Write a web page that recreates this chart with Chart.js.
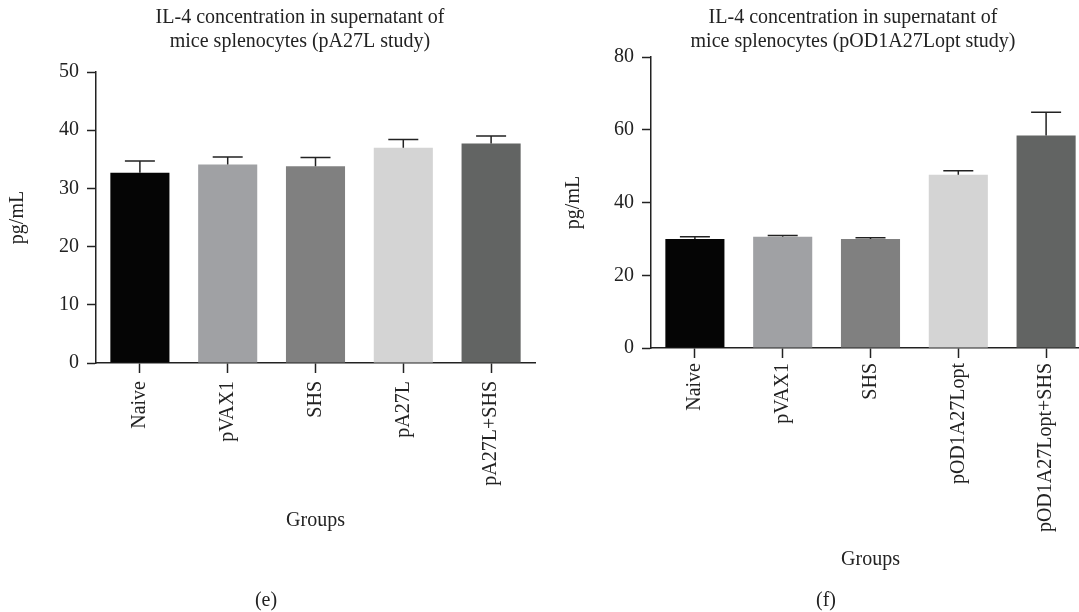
<!DOCTYPE html>
<html>
<head>
<meta charset="utf-8">
<script src="https://cdn.jsdelivr.net/npm/chart.js@4.4.0/dist/chart.umd.min.js"></script>
<style>
    html, body { margin: 0; padding: 0; background: #fff; overflow: hidden; }
    #wrap { position: relative; width: 1079px; height: 612px; overflow: hidden; }
    canvas { position: absolute; top: 0; }
    #chartE { left: 0px; }
    #chartF { left: 556px; }
    .panel { position: absolute; top: 588px; font: 20px 'Liberation Serif', serif; color: #222; width: 60px; text-align: center; }
</style>
</head>
<body>
<div id="wrap">
    <canvas id="chartE" width="600" height="612"></canvas>
    <canvas id="chartF" width="594" height="612"></canvas>
    <div class="panel" style="left:236px">(e)</div>
    <div class="panel" style="left:796px">(f)</div>
</div>
<script>
// Panel (e) - pA27L study
const groupsE = ['Naive', 'pVAX1', 'SHS', 'pA27L', 'pA27L+SHS'];
const meansE = [32.7, 34.1, 33.8, 37.0, 37.7];
const semE = [2.0, 1.3, 1.5, 1.4, 1.3];

// Panel (f) - pOD1A27Lopt study
const groupsF = ['Naive', 'pVAX1', 'SHS', 'pOD1A27Lopt', 'pOD1A27Lopt+SHS'];
const meansF = [30.0, 30.6, 30.0, 47.6, 58.4];
const semF = [0.6, 0.3, 0.3, 1.1, 6.4];

const barColors = ['#050505', '#a0a1a4', '#808080', '#d4d4d4', '#626463'];

Chart.defaults.font.family = "'Liberation Serif', 'Times New Roman', serif";
Chart.defaults.font.size = 20;
Chart.defaults.color = '#222';

// upper error bars drawn through the y scale
const errorBars = {
    id: 'errorBars',
    afterDatasetsDraw(chart, args, opts) {
        const ctx = chart.ctx;
        const meta = chart.getDatasetMeta(0);
        const yScale = chart.scales.y;
        const vals = chart.data.datasets[0].data;
        ctx.save();
        ctx.strokeStyle = '#222';
        ctx.lineWidth = 1.5;
        meta.data.forEach((bar, i) => {
            const yTop = yScale.getPixelForValue(vals[i] + opts.sem[i]);
            ctx.beginPath();
            ctx.moveTo(bar.x, bar.y);
            ctx.lineTo(bar.x, yTop);
            ctx.moveTo(bar.x - 15, yTop);
            ctx.lineTo(bar.x + 15, yTop);
            ctx.stroke();
        });
        ctx.restore();
    }
};

function makeConfig(labels, values, sem, o) {
    return {
        type: 'bar',
        data: {
            labels: labels,
            datasets: [{
                data: values,
                backgroundColor: barColors,
                borderWidth: 0,
                barPercentage: 0.673,
                categoryPercentage: 1
            }]
        },
        options: {
            responsive: false,
            animation: false,
            layout: { padding: 0 },
            scales: {
                x: {
                    grid: { offset: false, drawOnChartArea: false, tickLength: 10, tickColor: '#222', tickWidth: 1.5 },
                    border: { color: '#222', width: 1.5 },
                    ticks: { minRotation: 90, maxRotation: 90, autoSkip: false, padding: o.xPad },
                    title: { display: true, text: 'Groups', padding: { top: 0, bottom: o.groupsPad } },
                    afterFit: s => { s.height = o.xHeight; }
                },
                y: {
                    min: 0,
                    max: o.yMax,
                    grid: { drawOnChartArea: false, tickLength: 9, tickColor: '#222', tickWidth: 1.5 },
                    border: { color: '#222', width: 1.5 },
                    ticks: { stepSize: o.step, padding: 8 },
                    title: { display: true, text: 'pg/mL', padding: { top: o.yTitlePad, bottom: 0 } },
                    afterFit: s => { s.width = o.yWidth; }
                },
                // empty right-hand scale, only keeps room so the title centres like the figure
                spacer: {
                    type: 'linear',
                    position: 'right',
                    grid: { display: false },
                    border: { display: false },
                    ticks: { display: false },
                    afterFit: s => { s.width = o.rightSpace; }
                }
            },
            plugins: {
                legend: { display: false },
                tooltip: { enabled: false },
                title: {
                    display: true,
                    text: o.title,
                    font: { size: 20, weight: 'normal', lineHeight: 1.2 },
                    padding: { top: 6, bottom: o.titleGap }
                },
                errorBars: { sem: sem }
            }
        },
        plugins: [errorBars]
    };
}

new Chart(document.getElementById('chartE'), makeConfig(groupsE, meansE, semE, {
    title: ['IL-4 concentration in supernatant of', 'mice splenocytes (pA27L study)'],
    titleGap: 18,
    yMax: 50, step: 10,
    yWidth: 96, yTitlePad: 6,
    xHeight: 249, xPad: 8, groupsPad: 79,
    rightSpace: 65
}));

new Chart(document.getElementById('chartF'), makeConfig(groupsF, meansF, semF, {
    title: ['IL-4 concentration in supernatant of', 'mice splenocytes (pOD1A27Lopt study)'],
    titleGap: 3,
    yMax: 80, step: 20,
    yWidth: 95, yTitlePad: 6,
    xHeight: 264, xPad: 5, groupsPad: 40,
    rightSpace: 60
}));
</script>
</body>
</html>
